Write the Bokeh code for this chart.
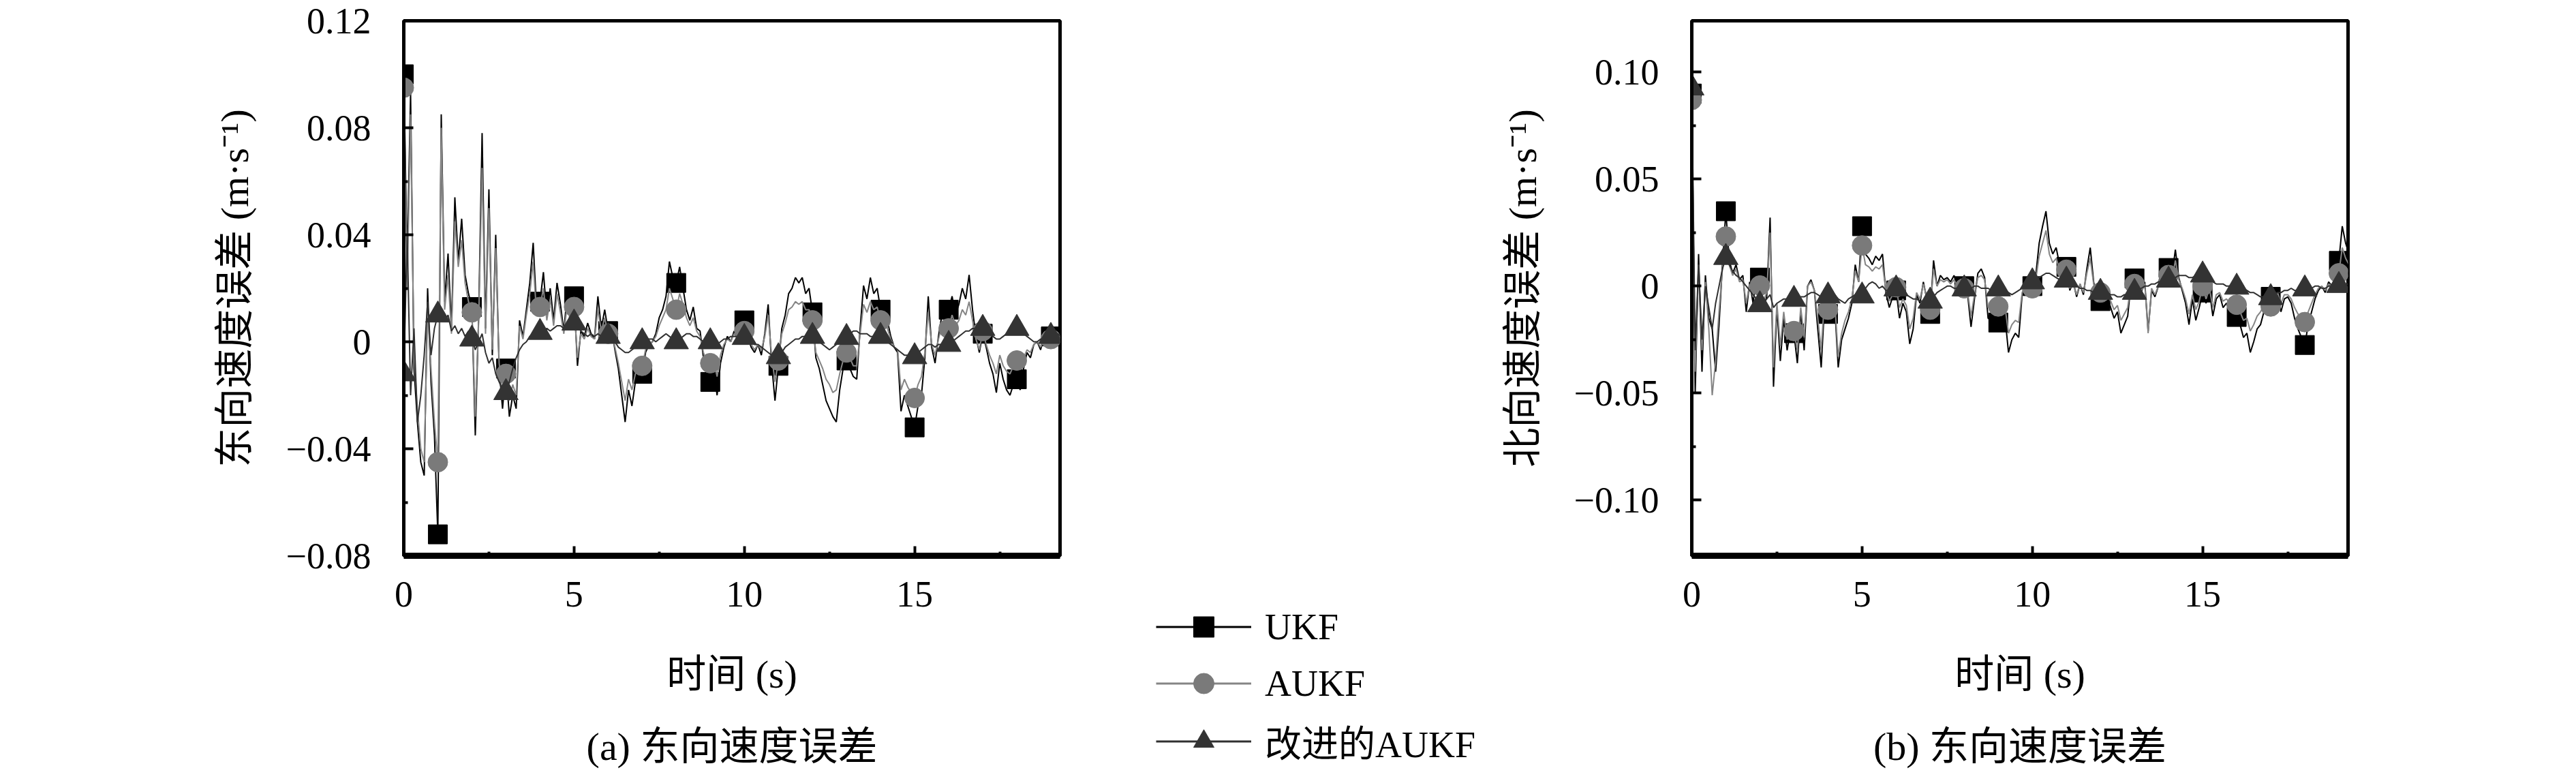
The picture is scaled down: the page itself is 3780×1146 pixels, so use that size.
from bokeh.plotting import figure
from bokeh.layouts import row, column
from bokeh.models import (Range1d, FixedTicker, CustomJSTickFormatter, Title,
                          Legend, LegendItem, Spacer)
from bokeh.embed import file_html
from bokeh.resources import INLINE

# ---------------- data (velocity error, units of 1e-3 m/s, sampled every 0.1 s) -------------
DT = 0.1
SCALE = 1e-3
MARK_STEP = 10  # markers at every whole second

# panel (a): east velocity error
ukf_a = [
    100, 30, 93, -10, -30, -45, -50, 20, -15, -35,
    -72, 85, 15, 33, 5, 54, 30, 46, 25, 18,
    13, -35, 10, 78, 5, 57, -5, 40, -10, -25,
    -10, -28, -20, -25, 8, 2, 12, 22, 37, 12,
    15, 26, 10, 20, 8, 22, 14, 4, 18, 8,
    17, -9, 4, 2, 7, 3, 1, 17, 5, 12,
    4, 5, -3, -10, -20, -30, -18, -24, -15, -12,
    -12, -4, -1, 0, 3, 9, 12, 17, 30, 24,
    22, 28, 20, 12, 8, 13, 5, 4, -6, -12,
    -15, -10, -20, -8, -2, 2, 0, 4, 1, 5,
    8, 2, -2, -4, -1, -5, 3, 14, -8, -22,
    -9, 5, 10, 18, 20, 24, 22, 24, 18, 20,
    11, -6, -10, -16, -22, -25, -28, -30, -18, -10,
    -7, -10, -13, -14, 5, 21, 16, 24, 18, 20,
    12, 14, 8, 2, -2, -4, -26, -20, -24, -28,
    -32, -24, -20, -6, 17, -2, -8, 2, 10, 15,
    12, 17, 10, 14, 20, 16, 25, 12, 2, -4,
    3, -2, -8, -12, -19, -8, -14, -18, -20, -16,
    -14, -18, -10, -4, -6, -1, 0, -3, 2, 0,
    2, 1, 3, 1,
]
aukf_a = [
    95, 20, 85, -5, -25, -40, -45, 12, -10, -30,
    -45, 80, 12, 25, 3, 45, 28, 38, 22, 15,
    11, -28, 8, 65, 3, 50, -3, 35, -8, -20,
    -12, -22, -16, -20, 6, 1, 10, 18, 30, 10,
    13, 20, 8, 16, 6, 18, 11, 3, 14, 7,
    13, -6, 3, 1, 5, 2, 1, 12, 4, 9,
    3, 3, -2, -8, -15, -22, -14, -18, -12, -10,
    -9, -3, -1, 0, 2, 6, 9, 12, 20, 16,
    12, 18, 14, 9, 6, 9, 4, 2, -4, -8,
    -8, -7, -13, -5, -1, 1, 0, 3, 1, 3,
    4, 1, -1, -3, -1, -3, 2, 10, -5, -15,
    -7, 3, 7, 12, 13, 15, 14, 15, 12, 12,
    8, -4, -7, -10, -14, -16, -19, -18, -12, -7,
    -4, -6, -9, -9, 3, 14, 11, 15, 12, 13,
    8, 9, 5, 1, -2, -3, -18, -14, -17, -19,
    -21, -16, -13, -4, 11, -1, -5, 1, 6, 8,
    5, 10, 6, 8, 12, 10, 15, 8, 1, -3,
    4, -1, -5, -8, -12, -5, -9, -11, -12, -9,
    -7, -10, -6, -3, -4, -1, 0, -2, 1, 0,
    1, 1, 2, 1,
]
imp_a = [
    -12, 40, -20, 5, -30, -20, -5, 15, -5, 5,
    10, 12, 8, 10, 4, 6, 3, 5, 2, 4,
    1, -3, 0, 3, -4, -8, -6, -12, -15, -18,
    -19, -15, -10, -6, -3, -1, 0, 2, 3, 3,
    3.5, 4, 5, 4, 5, 6, 6, 5, 6, 7,
    7, 6, 4, 3, 2, 3, 2, 3, 2, 2,
    2, 1, 0, -2, -3, -4, -4, -3, -2, -1,
    0, 0, 1, 1, 0, 1, 2, 3, 2, 1,
    0, 1, 2, 3, 3, 2, 2, 1, 0, 0,
    0, 0, -1, 0, 1, 1, 2, 2, 2, 2,
    1.6, 1, 0, -1, -1, -2, -3, -4, -5, -5,
    -5.6, -4, -2, -1, 0, 1, 1, 2, 2, 2,
    2, 1, 0, -1, -2, -3, -2, -1, 0, 1,
    1.6, 3, 4, 4, 3, 3, 3, 2, 2, 2,
    2, 1, 0, -1, -2, -3, -4, -5, -5, -6,
    -5.6, -4, -3, -2, -1, -1, -2, -1, -1, -1,
    -1, 0, 1, 2, 3, 4, 4, 5, 5, 5,
    5, 4, 3, 2, 1, 1, 2, 3, 4, 5,
    5, 4, 3, 2, 1, 0, 0, 1, 1, 2,
    2, 2, 3, 2,
]

# panel (b): north velocity error
ukf_b = [
    90, -50, 15, -40, 5, -15, -20, -40, -18, 10,
    35, 12, 6, 10, 3, 5, -12, 2, -8, 5,
    4, -10, -5, 32, -47, -10, -35, -15, -30, -20,
    -22, -36, -12, -30, 0, 3, -2, -20, -38, -8,
    -13, -5, -10, -38, -25, -20, -15, -8, 10, 2,
    28, 15, 13, 10, 14, 12, 15, -3, -10, -5,
    -2, -15, -8, -12, -27, -20, -4, -8, 2, -6,
    -13, 12, 0, 5, 3, 4, 2, 5, 0, -2,
    0, -4, -19, -6, 6, 8, 4, -15, -16, -14,
    -17, -16, -15, -31, -25, -22, -24, -4, 0, -2,
    0, 5, 20, 28, 35, 20, 15, 18, 10, 3,
    9, -2, 2, -5, 1, -4, 8, 18, 2, -6,
    -7, -2, -5, -10, -15, -12, -22, -18, -14, 2,
    3.6, 0, -3, 2, -21, -2, -5, 0, 10, 6,
    8.5, 5, 17, 4, -2, -8, -18, -6, -16, -10,
    -3, -8, -2, -14, -6, -4, -10, -8, -12, -14,
    -14.4, -18, -24, -22, -31, -26, -20, -18, -12, -8,
    -5, -10, -4, -12, -6, -5, -8, -15, -20, -24,
    -27.5, -18, -12, -6, -2, 0, -3, 2, 0, 4,
    11.8, 28, 20, 15,
]
aukf_b = [
    87, -40, 10, -30, 2, -20, -51, -35, -12, 8,
    23.2, 10, 5, 8, 2, 3, -8, 1, -5, 3,
    0.3, -7, -3, 25, -38, -8, -28, -12, -25, -18,
    -21, -30, -10, -24, 0, 2, -2, -15, -30, -6,
    -11, -4, -8, -33, -22, -16, -12, -6, 7, 2,
    19, 10, 9, 7, 9, 8, 10, -2, -7, -4,
    -0.5, -10, -6, -9, -20, -15, -3, -6, 1, -5,
    -11, 8, 0, 3, 2, 3, 1, 3, 0, -1,
    -1, -3, -14, -4, 4, 5, 3, -10, -11, -9,
    -9.5, -11, -10, -22, -18, -16, -17, -3, 0, -1,
    -1, 3, 14, 20, 26, 15, 11, 13, 8, 3,
    7.7, -1, 1, -4, 1, -3, 6, 13, 1, -4,
    -3, -1, -4, -7, -11, -9, -16, -13, -10, 1,
    1, 0, -2, 1, -22, -1, -4, 0, 7, 4,
    5.2, 3, 12, 3, -1, -6, -13, -4, -11, -7,
    0, -6, -1, -10, -4, -3, -7, -6, -8, -9,
    -8.7, -12, -16, -15, -21, -18, -14, -12, -9, -6,
    -9.5, -7, -3, -8, -4, -4, -6, -10, -13, -15,
    -16.8, -12, -8, -4, -1, 0, -2, 1, 0, 3,
    6, 18, 13, 10,
]
imp_b = [
    92.6, -30, 10, -25, 0, -10, -20, -8, 0, 8,
    13.4, 10, 7, 5, 4, 2, 0, -2, -4, -6,
    -8.7, -8, -6, -4, -10, -8, -7, -6, -6, -6,
    -6.2, -6, -5, -5, -4, -3, -3, -4, -5, -5,
    -4.6, -4, -4, -6, -7, -8, -6, -5, -4, -4,
    -4.6, -1, 1, 2, 1, -1, 0, -2, -2, -1,
    -1.3, -2, -3, -4, -5, -6, -6, -7, -7, -7,
    -7, -5, -3, -2, -1, 0, 0, -1, -1, -1,
    -1.3, -1, -1, 0, 0, -1, -1, -1, -2, -2,
    -1.3, -1, -2, -3, -4, -3, -2, -1, 0, 1,
    2, 3, 4, 5, 6, 6, 5, 4, 3, 3,
    2.8, 2, 1, 0, -1, -1, -2, -2, -3, -3,
    -2.9, -3, -3, -4, -4, -5, -5, -4, -4, -3,
    -2.9, -2, -1, 0, 0, 1, 1, 2, 2, 3,
    2.8, 3, 4, 5, 5, 5, 4, 4, 5, 5,
    5.2, 4, 3, 2, 1, 1, 1, 0, 0, -1,
    -0.5, -1, -1, -2, -3, -3, -4, -5, -5, -5,
    -5.4, -4, -3, -3, -2, -2, -1, -2, -2, -1,
    -1.3, -1, -1, 0, 0, -1, -1, 0, 0, 0,
    0.3, 1, 1, 1,
]

series_names = ["UKF", "AUKF", "改进的AUKF"]
x_ticks = [0, 5, 10, 15]
x_minor = [2.5, 7.5, 12.5, 17.5]
x_max = 19.27
ya_ticks = [-0.08, -0.04, 0.0, 0.04, 0.08, 0.12]
ya_minor = [-0.06, -0.02, 0.02, 0.06, 0.10]
yb_ticks = [-0.10, -0.05, 0.0, 0.05, 0.10]
yb_minor = [-0.075, -0.025, 0.025, 0.075]

# ---------------- styles ----------------
LATIN = "Liberation Serif"
MIXED = "'Liberation Serif', 'Noto Sans CJK SC'"
STYLES = [
    dict(line="#000000", fill="#000000", marker="square", size=28),
    dict(line="#858585", fill="#7a7a7a", marker="circle", size=29),
    dict(line="#303030", fill="#333333", marker="triangle", size=36),
]
FW, FH = 963, 785
TOP = 30
H = 1130


def times(n):
    return [round(i * DT, 1) for i in range(n)]


def scaled(v):
    return [x * SCALE for x in v]


fmt = CustomJSTickFormatter(code="""
if (Math.abs(tick) < 1e-9) { return "0"; }
return (tick < 0 ? "\u2212" : "") + Math.abs(tick).toFixed(2);
""")


def panel(series, y_lo, y_hi, y_major, y_minor, ylabel, caption, left_b, right_b):
    p = figure(frame_width=FW, frame_height=FH, min_border_left=left_b,
               min_border_right=right_b, min_border_top=TOP,
               min_border_bottom=H - TOP - FH,
               x_range=Range1d(0, x_max), y_range=Range1d(y_lo, y_hi),
               toolbar_location=None, output_backend="svg", title=None)
    p.background_fill_color = "white"
    p.border_fill_color = "white"
    p.xgrid.visible = False
    p.ygrid.visible = False
    p.outline_line_color = "black"
    p.outline_line_width = 5

    for vals, st in zip(series, STYLES):
        y = scaled(vals)
        x = times(len(y))
        p.line(x, y, line_color=st["line"], line_width=2)
        p.scatter(x[::MARK_STEP], y[::MARK_STEP], marker=st["marker"], size=st["size"],
                  fill_color=st["fill"], line_color=st["fill"])

    for ax, ticks, minor in ((p.xaxis[0], x_ticks, x_minor), (p.yaxis[0], y_major, y_minor)):
        ax.ticker = FixedTicker(ticks=ticks, minor_ticks=minor)
        ax.major_tick_in = 14
        ax.major_tick_out = 0
        ax.minor_tick_in = 6
        ax.minor_tick_out = 0
        ax.major_tick_line_width = 4
        ax.minor_tick_line_width = 4
        ax.axis_line_color = "black"
        ax.major_label_text_font = LATIN
        ax.major_label_text_font_size = "54px"
        ax.major_label_text_color = "black"
        ax.axis_label_text_font = MIXED
        ax.axis_label_text_font_size = "58px"
        ax.axis_label_text_font_style = "normal"
        ax.axis_label_text_color = "black"
    p.xaxis[0].axis_line_width = 9
    p.yaxis[0].axis_line_width = 5
    p.yaxis[0].formatter = fmt
    p.xaxis[0].major_label_standoff = 38
    p.yaxis[0].major_label_standoff = 48
    p.xaxis[0].axis_label = "时间 (s)"
    p.xaxis[0].axis_label_standoff = 64
    p.yaxis[0].axis_label = ylabel
    p.yaxis[0].axis_label_standoff = 40

    p.add_layout(Title(text=caption, align="center", text_font=MIXED,
                       text_font_size="58px", text_font_style="normal",
                       text_color="black", standoff=72), "below")
    return p


pa = panel([ukf_a, aukf_a, imp_a], -0.08, 0.12, ya_ticks, ya_minor,
           "东向速度误差 (m·s⁻¹)", "(a) 东向速度误差", 592, 141)
pb = panel([ukf_b, aukf_b, imp_b], -0.126, 0.124, yb_ticks, yb_minor,
           "北向速度误差 (m·s⁻¹)", "(b) 东向速度误差", 298, 317)

# ---------------- shared legend (own small plot between the panels) ----------------
MID_W, LEG_H = 488, 248
pm = figure(frame_width=MID_W, frame_height=LEG_H, min_border=0,
            x_range=Range1d(-50, -40), y_range=Range1d(-1, 1),
            x_axis_type=None, y_axis_type=None, toolbar_location=None,
            output_backend="svg", title=None)
pm.outline_line_color = None
pm.background_fill_color = "white"
pm.border_fill_color = "white"
items = []
for vals, st, name in zip([ukf_a, aukf_a, imp_a], STYLES, series_names):
    y = scaled(vals)
    x = times(len(y))
    lr = pm.line(x, y, line_color=st["line"], line_width=3)
    sr = pm.scatter(x[::MARK_STEP], y[::MARK_STEP], marker=st["marker"], size=st["size"],
                    fill_color=st["fill"], line_color=st["fill"])
    items.append(LegendItem(label=name, renderers=[lr, sr]))
legend = Legend(items=items, location="top_left", glyph_width=140, glyph_height=75,
                spacing=8, padding=0, margin=0, label_standoff=20,
                label_text_font=MIXED, label_text_font_size="54px",
                label_text_color="black", background_fill_alpha=0,
                border_line_alpha=0)
pm.add_layout(legend)

mid = column(Spacer(width=MID_W, height=H - LEG_H), pm)
layout = row(pa, mid, pb)
open("out.html", "w").write(file_html(layout, INLINE))
